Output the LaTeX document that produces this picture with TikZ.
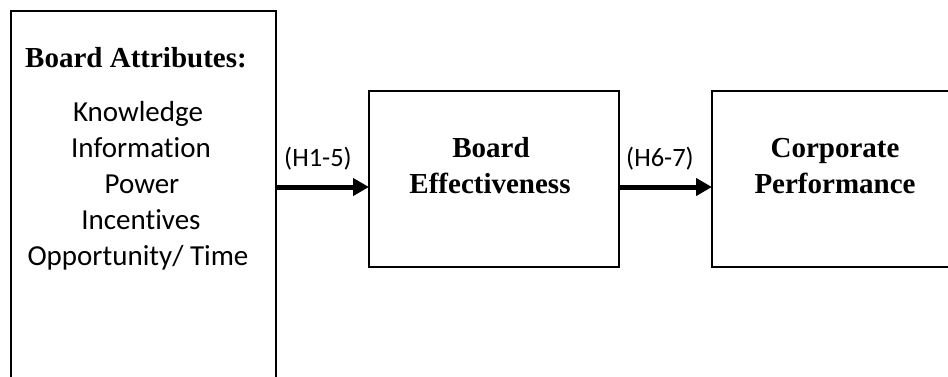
\documentclass[tikz,border=0pt]{standalone}
\usepackage{fontspec}
\setmainfont{Liberation Serif}
\newfontfamily\calfont[Ligatures=NoCommon]{Carlito}
\usetikzlibrary{arrows.meta}
\begin{document}
\begin{tikzpicture}[x=1pt,y=-1pt,
  box/.style={draw=black,line width=1.5pt,inner sep=0pt,outer sep=0pt},
  head/.style={font=\fontsize{29}{36}\selectfont\bfseries,anchor=base,inner sep=0pt},
  item/.style={font=\calfont\fontsize{29}{36}\selectfont,anchor=base,inner sep=0pt},
  lab/.style={font=\calfont\fontsize{26.5}{32}\selectfont,anchor=base,inner sep=0pt},
  arr/.style={line width=5pt,-{Triangle[length=16pt,width=17pt]}}]
\useasboundingbox (0,0) rectangle (948,376);
\clip (0,0) rectangle (948,376);
\node[box,minimum width=265pt,minimum height=400pt] (left) at (143.5,211) {};
\node[box,minimum width=250pt,minimum height=176pt] (mid) at (494,179) {};
\node[box,minimum width=248pt,minimum height=176pt] (right) at (836,179) {};
\node[head] (t1) at (136,67) {Board Attributes:};
\node[item] (i1) at (138,121) {Knowledge};
\node[item] (i2) at (141,157) {Information};
\node[item] (i3) at (142,193) {Power};
\node[item] (i4) at (141,229) {Incentives};
\node[item] (i5) at (138,265) {Opportunity/ Time};
\node[head] (m1) at (491,157) {Board};
\node[head] (m2) at (490,193) {Effectiveness};
\node[head] (r1) at (835,157) {Corporate};
\node[head] (r2) at (835,193) {Performance};
\coordinate (a1) at ([yshift=-8pt]mid.west);
\coordinate (a2) at ([yshift=-8pt]right.west);
\draw[arr] (left.east |- a1) -- (a1);
\draw[arr] (mid.east |- a2) -- (a2);
\node[lab] (l1) at (318,166) {(H1-5)};
\node[lab] (l2) at (660,166) {(H6-7)};
\end{tikzpicture}
\end{document}
